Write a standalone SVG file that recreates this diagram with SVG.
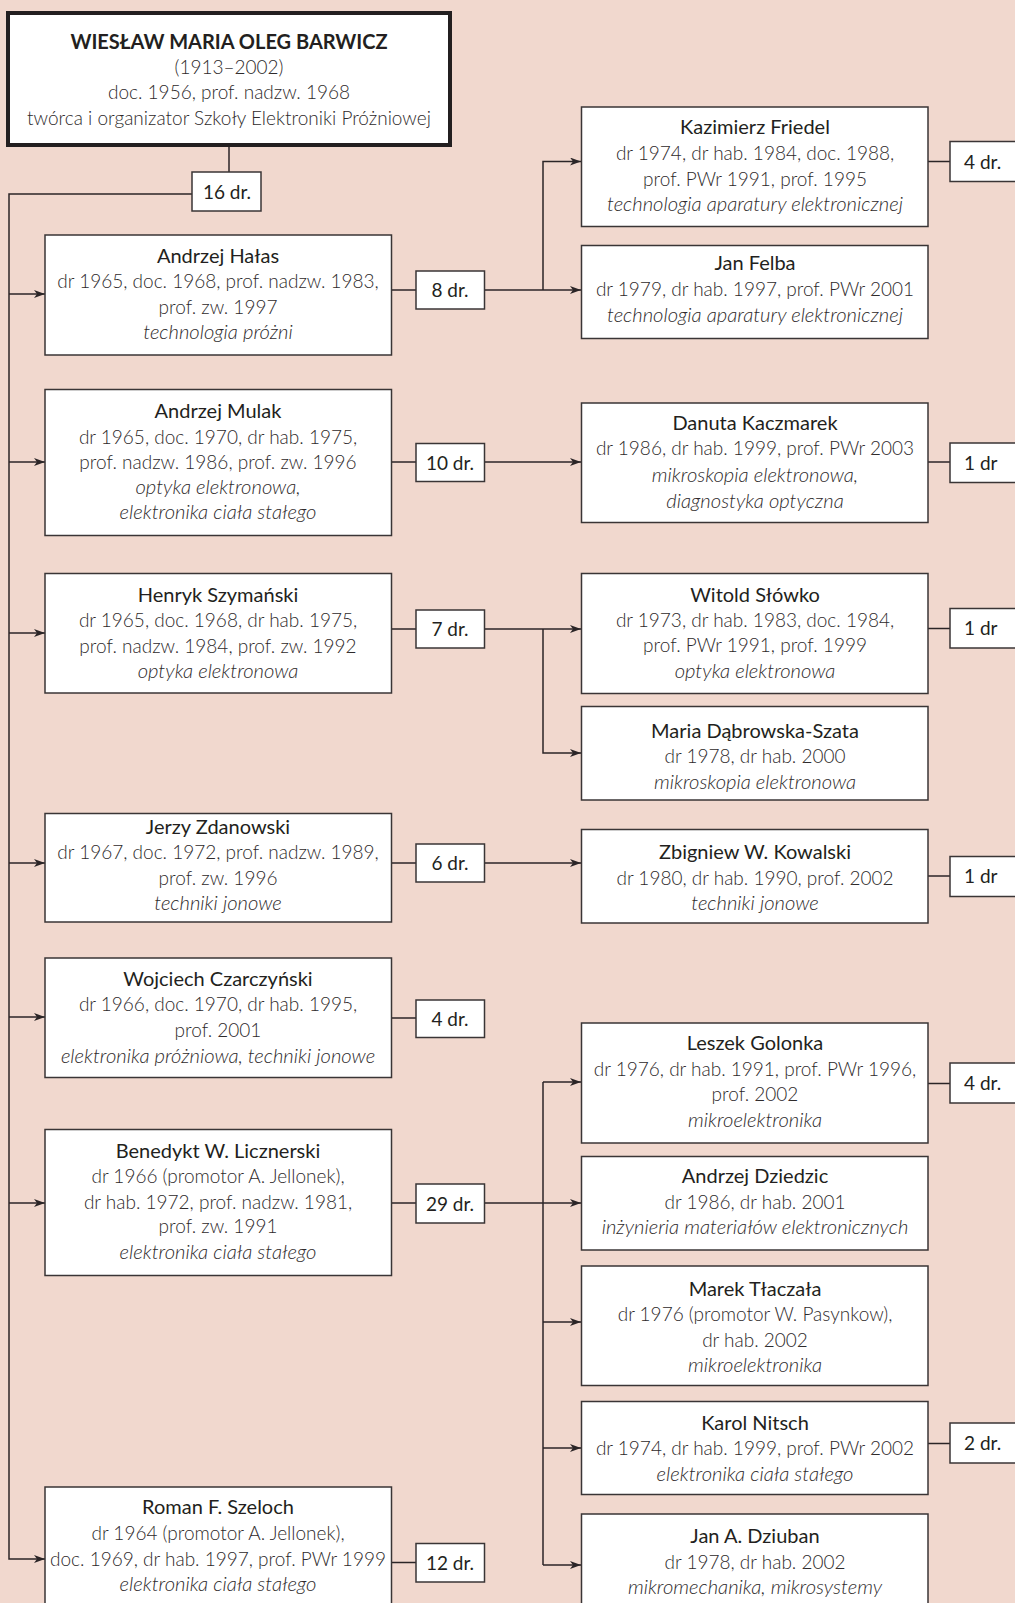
<svg xmlns="http://www.w3.org/2000/svg" width="1015" height="1603" viewBox="0 0 1015 1603">
  <style>
    text { font-family: Lato, "Liberation Sans", sans-serif; }
    .box { fill: #ffffff; stroke: #3a3536; stroke-width: 1.5; }
    .root { fill: #ffffff; stroke: #231f20; stroke-width: 4; }
    .nm { font-size: 20px; fill: #231f20; text-anchor: middle; }
    .dt { font-size: 19px; fill: #2e2a2b; text-anchor: middle; font-weight: 300; }
    .it { font-style: italic; font-size: 20.2px; }
    .ttl { font-size: 20px; font-weight: bold; fill: #231f20; text-anchor: middle; }
    .cnt { font-size: 19px; fill: #231f20; text-anchor: middle; }
    .cntr { font-size: 19px; fill: #231f20; }
    .conn { stroke: #2b2527; stroke-width: 1.5; fill: none; }
  </style>
  <defs>
    <marker id="arr" markerUnits="userSpaceOnUse" markerWidth="12" markerHeight="9" refX="11" refY="4" orient="auto">
      <path d="M0,0 L11,4 L0,8 L3,4 z" fill="#2b2527"/>
    </marker>
  </defs>

  <rect x="0" y="0" width="1015" height="1603" fill="#f1d8ce"/>

  <!-- connectors -->
  <g id="connectors" class="conn">
    <path d="M229,147 V172"/>
    <path d="M192,194 H9 V1559 H45" marker-end="url(#arr)"/>
    <path d="M9,294 H45" marker-end="url(#arr)"/>
    <path d="M9,462 H45" marker-end="url(#arr)"/>
    <path d="M9,633 H45" marker-end="url(#arr)"/>
    <path d="M9,863 H45" marker-end="url(#arr)"/>
    <path d="M9,1017 H45" marker-end="url(#arr)"/>
    <path d="M9,1203 H45" marker-end="url(#arr)"/>

    <!-- Hałas -->
    <path d="M391.5,290 H416"/>
    <path d="M484.5,290 H581" marker-end="url(#arr)"/>
    <path d="M543,290 V161.5 H581" marker-end="url(#arr)"/>
    <path d="M928,161.5 H950"/>

    <!-- Mulak -->
    <path d="M391.5,462 H416"/>
    <path d="M484.5,462 H581" marker-end="url(#arr)"/>
    <path d="M928,462 H950"/>

    <!-- Szymański -->
    <path d="M391.5,629 H416"/>
    <path d="M484.5,629 H581" marker-end="url(#arr)"/>
    <path d="M543,629 V753 H581" marker-end="url(#arr)"/>
    <path d="M928,628.5 H950"/>

    <!-- Zdanowski -->
    <path d="M391.5,863 H416"/>
    <path d="M484.5,863 H581" marker-end="url(#arr)"/>
    <path d="M928,876 H950"/>

    <!-- Czarczyński -->
    <path d="M391.5,1018 H416"/>

    <!-- Licznerski -->
    <path d="M391.5,1203 H416"/>
    <path d="M484.5,1203 H581" marker-end="url(#arr)"/>
    <path d="M543,1082 V1565"/>
    <path d="M543,1082 H581" marker-end="url(#arr)"/>
    <path d="M543,1322 H581" marker-end="url(#arr)"/>
    <path d="M543,1448 H581" marker-end="url(#arr)"/>
    <path d="M543,1565 H581" marker-end="url(#arr)"/>
    <path d="M928,1083.5 H950"/>
    <path d="M928,1443.5 H950"/>

    <!-- Szeloch -->
    <path d="M391.5,1562.5 H416"/>
  </g>

  <!-- root -->
  <g id="barwicz">
    <rect class="root" x="8" y="13" width="442" height="132"/>
    <text class="ttl" x="229" y="48.5">WIESŁAW MARIA OLEG BARWICZ</text>
    <text class="dt" x="229" y="73.5">(1913–2002)</text>
    <text class="dt" x="229" y="99.3">doc. 1956, prof. nadzw. 1968</text>
    <text class="dt" x="229" y="125">twórca i organizator Szkoły Elektroniki Próżniowej</text>
  </g>
  <g id="cnt-barwicz">
    <rect class="box" x="192" y="172" width="69" height="39"/>
    <text class="cnt" x="227" y="198.5">16 dr.</text>
  </g>

  <!-- first generation -->
  <g id="halas">
    <rect class="box" x="45" y="235" width="346.5" height="120"/>
    <text class="nm" x="218" y="262.5">Andrzej Hałas</text>
    <text class="dt" x="218" y="288">dr 1965, doc. 1968, prof. nadzw. 1983,</text>
    <text class="dt" x="218" y="313.5">prof. zw. 1997</text>
    <text class="dt it" x="218" y="339">technologia próżni</text>
  </g>
  <g id="cnt-halas">
    <rect class="box" x="416" y="271" width="68.5" height="38"/>
    <text class="cnt" x="450" y="297">8 dr.</text>
  </g>

  <g id="mulak">
    <rect class="box" x="45" y="389.5" width="346.5" height="146"/>
    <text class="nm" x="218" y="418">Andrzej Mulak</text>
    <text class="dt" x="218" y="443.5">dr 1965, doc. 1970, dr hab. 1975,</text>
    <text class="dt" x="218" y="469">prof. nadzw. 1986, prof. zw. 1996</text>
    <text class="dt it" x="218" y="494">optyka elektronowa,</text>
    <text class="dt it" x="218" y="519">elektronika ciała stałego</text>
  </g>
  <g id="cnt-mulak">
    <rect class="box" x="416" y="443.5" width="68.5" height="38"/>
    <text class="cnt" x="450" y="469.5">10 dr.</text>
  </g>

  <g id="szymanski">
    <rect class="box" x="45" y="573.5" width="346.5" height="119.5"/>
    <text class="nm" x="218" y="601.5">Henryk Szymański</text>
    <text class="dt" x="218" y="627">dr 1965, doc. 1968, dr hab. 1975,</text>
    <text class="dt" x="218" y="652.5">prof. nadzw. 1984, prof. zw. 1992</text>
    <text class="dt it" x="218" y="678">optyka elektronowa</text>
  </g>
  <g id="cnt-szymanski">
    <rect class="box" x="416" y="610" width="68.5" height="38"/>
    <text class="cnt" x="450" y="636">7 dr.</text>
  </g>

  <g id="zdanowski">
    <rect class="box" x="45" y="813.5" width="346.5" height="108.5"/>
    <text class="nm" x="218" y="833.5">Jerzy Zdanowski</text>
    <text class="dt" x="218" y="859">dr 1967, doc. 1972, prof. nadzw. 1989,</text>
    <text class="dt" x="218" y="884.5">prof. zw. 1996</text>
    <text class="dt it" x="218" y="910">techniki jonowe</text>
  </g>
  <g id="cnt-zdanowski">
    <rect class="box" x="416" y="844" width="68.5" height="38"/>
    <text class="cnt" x="450" y="870">6 dr.</text>
  </g>

  <g id="czarczynski">
    <rect class="box" x="45" y="958" width="346.5" height="119.5"/>
    <text class="nm" x="218" y="985.5">Wojciech Czarczyński</text>
    <text class="dt" x="218" y="1011">dr 1966, doc. 1970, dr hab. 1995,</text>
    <text class="dt" x="218" y="1036.5">prof. 2001</text>
    <text class="dt it" x="218" y="1062.5">elektronika próżniowa, techniki jonowe</text>
  </g>
  <g id="cnt-czarczynski">
    <rect class="box" x="416" y="1000" width="68.5" height="37.5"/>
    <text class="cnt" x="450" y="1025.5">4 dr.</text>
  </g>

  <g id="licznerski">
    <rect class="box" x="45" y="1129.5" width="346.5" height="146"/>
    <text class="nm" x="218" y="1157.5">Benedykt W. Licznerski</text>
    <text class="dt" x="218" y="1183">dr 1966 (promotor A. Jellonek),</text>
    <text class="dt" x="218" y="1208.5">dr hab. 1972, prof. nadzw. 1981,</text>
    <text class="dt" x="218" y="1233">prof. zw. 1991</text>
    <text class="dt it" x="218" y="1258.5">elektronika ciała stałego</text>
  </g>
  <g id="cnt-licznerski">
    <rect class="box" x="416" y="1184" width="68.5" height="39"/>
    <text class="cnt" x="450" y="1210.5">29 dr.</text>
  </g>

  <g id="szeloch">
    <rect class="box" x="45" y="1487" width="346.5" height="130"/>
    <text class="nm" x="218" y="1514">Roman F. Szeloch</text>
    <text class="dt" x="218" y="1540">dr 1964 (promotor A. Jellonek),</text>
    <text class="dt" x="218" y="1565.5">doc. 1969, dr hab. 1997, prof. PWr 1999</text>
    <text class="dt it" x="218" y="1591">elektronika ciała stałego</text>
  </g>
  <g id="cnt-szeloch">
    <rect class="box" x="416" y="1543.5" width="68.5" height="38.5"/>
    <text class="cnt" x="450" y="1569.5">12 dr.</text>
  </g>

  <!-- second generation -->
  <g id="friedel">
    <rect class="box" x="581.5" y="107" width="346.5" height="119.5"/>
    <text class="nm" x="755" y="134">Kazimierz Friedel</text>
    <text class="dt" x="755" y="160">dr 1974, dr hab. 1984, doc. 1988,</text>
    <text class="dt" x="755" y="185.5">prof. PWr 1991, prof. 1995</text>
    <text class="dt it" x="755" y="211">technologia aparatury elektronicznej</text>
  </g>
  <g id="cnt-friedel">
    <rect class="box" x="950" y="141.5" width="80" height="40"/>
    <text class="cntr" x="964" y="168.5">4 dr.</text>
  </g>

  <g id="felba">
    <rect class="box" x="581.5" y="245.5" width="346.5" height="93"/>
    <text class="nm" x="755" y="270">Jan Felba</text>
    <text class="dt" x="755" y="296">dr 1979, dr hab. 1997, prof. PWr 2001</text>
    <text class="dt it" x="755" y="321.5">technologia aparatury elektronicznej</text>
  </g>

  <g id="kaczmarek">
    <rect class="box" x="581.5" y="403" width="346.5" height="119.5"/>
    <text class="nm" x="755" y="429.5">Danuta Kaczmarek</text>
    <text class="dt" x="755" y="455">dr 1986, dr hab. 1999, prof. PWr 2003</text>
    <text class="dt it" x="755" y="481.5">mikroskopia elektronowa,</text>
    <text class="dt it" x="755" y="507.5">diagnostyka optyczna</text>
  </g>
  <g id="cnt-kaczmarek">
    <rect class="box" x="950" y="443" width="80" height="39.5"/>
    <text class="cntr" x="964" y="469.5">1 dr</text>
  </g>

  <g id="slowko">
    <rect class="box" x="581.5" y="573.5" width="346.5" height="120"/>
    <text class="nm" x="755" y="601.5">Witold Słówko</text>
    <text class="dt" x="755" y="626.5">dr 1973, dr hab. 1983, doc. 1984,</text>
    <text class="dt" x="755" y="652">prof. PWr 1991, prof. 1999</text>
    <text class="dt it" x="755" y="677.5">optyka elektronowa</text>
  </g>
  <g id="cnt-slowko">
    <rect class="box" x="950" y="608.5" width="80" height="39.5"/>
    <text class="cntr" x="964" y="635">1 dr</text>
  </g>

  <g id="dabrowska-szata">
    <rect class="box" x="581.5" y="706.5" width="346.5" height="93.5"/>
    <text class="nm" x="755" y="737.5">Maria Dąbrowska-Szata</text>
    <text class="dt" x="755" y="762.5">dr 1978, dr hab. 2000</text>
    <text class="dt it" x="755" y="788.5">mikroskopia elektronowa</text>
  </g>

  <g id="kowalski">
    <rect class="box" x="581.5" y="829.5" width="346.5" height="93.5"/>
    <text class="nm" x="755" y="859">Zbigniew W. Kowalski</text>
    <text class="dt" x="755" y="884.5">dr 1980, dr hab. 1990, prof. 2002</text>
    <text class="dt it" x="755" y="910">techniki jonowe</text>
  </g>
  <g id="cnt-kowalski">
    <rect class="box" x="950" y="856.5" width="80" height="40"/>
    <text class="cntr" x="964" y="883">1 dr</text>
  </g>

  <g id="golonka">
    <rect class="box" x="581.5" y="1023" width="346.5" height="120"/>
    <text class="nm" x="755" y="1050">Leszek Golonka</text>
    <text class="dt" x="755" y="1075.5">dr 1976, dr hab. 1991, prof. PWr 1996,</text>
    <text class="dt" x="755" y="1101">prof. 2002</text>
    <text class="dt it" x="755" y="1126.5">mikroelektronika</text>
  </g>
  <g id="cnt-golonka">
    <rect class="box" x="950" y="1063" width="80" height="40"/>
    <text class="cntr" x="964" y="1090">4 dr.</text>
  </g>

  <g id="dziedzic">
    <rect class="box" x="581.5" y="1156.5" width="346.5" height="93.5"/>
    <text class="nm" x="755" y="1183">Andrzej Dziedzic</text>
    <text class="dt" x="755" y="1208.5">dr 1986, dr hab. 2001</text>
    <text class="dt it" x="755" y="1234">inżynieria materiałów elektronicznych</text>
  </g>

  <g id="tlaczala">
    <rect class="box" x="581.5" y="1266" width="346.5" height="119.5"/>
    <text class="nm" x="755" y="1295.5">Marek Tłaczała</text>
    <text class="dt" x="755" y="1321">dr 1976 (promotor W. Pasynkow),</text>
    <text class="dt" x="755" y="1346.5">dr hab. 2002</text>
    <text class="dt it" x="755" y="1372">mikroelektronika</text>
  </g>

  <g id="nitsch">
    <rect class="box" x="581.5" y="1401.5" width="346.5" height="93"/>
    <text class="nm" x="755" y="1429.5">Karol Nitsch</text>
    <text class="dt" x="755" y="1455">dr 1974, dr hab. 1999, prof. PWr 2002</text>
    <text class="dt it" x="755" y="1480.5">elektronika ciała stałego</text>
  </g>
  <g id="cnt-nitsch">
    <rect class="box" x="950" y="1423" width="80" height="40"/>
    <text class="cntr" x="964" y="1450">2 dr.</text>
  </g>

  <g id="dziuban">
    <rect class="box" x="581.5" y="1514" width="346.5" height="110"/>
    <text class="nm" x="755" y="1543">Jan A. Dziuban</text>
    <text class="dt" x="755" y="1568.5">dr 1978, dr hab. 2002</text>
    <text class="dt it" x="755" y="1594">mikromechanika, mikrosystemy</text>
  </g>
</svg>
